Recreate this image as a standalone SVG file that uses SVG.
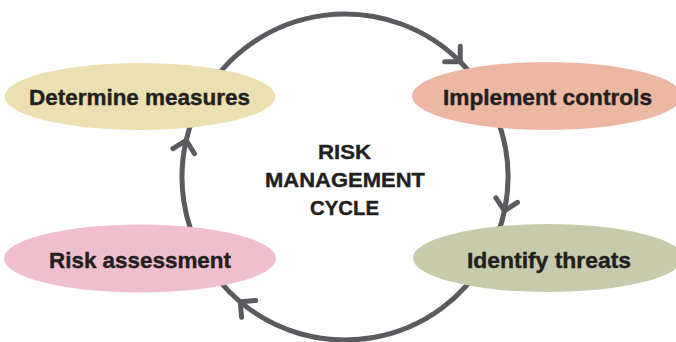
<svg xmlns="http://www.w3.org/2000/svg" width="676" height="342" viewBox="0 0 676 342">
<defs>
<style>
.conn{fill:none;stroke:#5b5a5f;stroke-width:5;marker-mid:url(#chev)}
.lbl{font-family:"Liberation Sans",Arial,sans-serif;font-weight:bold;font-size:22px;fill:#231f20;text-anchor:middle;stroke:#231f20;stroke-width:0.4}
.title{font-family:"Liberation Sans",Arial,sans-serif;font-weight:bold;font-size:20.5px;fill:#231f20;text-anchor:middle;stroke:#231f20;stroke-width:0.4}
</style>
<marker id="chev" markerUnits="userSpaceOnUse" orient="auto" refX="0" refY="0" markerWidth="30" markerHeight="30" viewBox="-15 -15 30 30" overflow="visible">
<path d="M-11 -11 L0 0 L-11 11" fill="none" stroke="#5b5a5f" stroke-width="5" stroke-linecap="round" stroke-linejoin="round"/>
</marker>
</defs>
<rect width="676" height="342" fill="#ffffff"/>
<g id="connectors">
<path class="conn" d="M203.84 95.5 A163 163 0 0 1 460.26 61.74 A163 163 0 0 1 498.17 121.25"/>
<path class="conn" d="M498.17 121.25 A163 163 0 0 1 504.44 210.89 A163 163 0 0 1 486.16 258.5"/>
<path class="conn" d="M486.16 258.5 A163 163 0 0 1 240.23 301.86 A163 163 0 0 1 203.84 258.5"/>
<path class="conn" d="M203.84 258.5 A163 163 0 0 1 186.18 140.33 A163 163 0 0 1 203.84 95.5"/>
</g>
<g id="node-determine">
<ellipse cx="140" cy="96.5" rx="135.5" ry="33.5" fill="#ecdfb2"/>
<text class="lbl" x="139.5" y="105" textLength="221" lengthAdjust="spacingAndGlyphs">Determine measures</text>
</g>
<g id="node-implement">
<ellipse cx="547" cy="96" rx="135" ry="34" fill="#edb8a3"/>
<text class="lbl" x="547.5" y="105" textLength="209" lengthAdjust="spacingAndGlyphs">Implement controls</text>
</g>
<g id="node-identify">
<ellipse cx="548" cy="258" rx="135" ry="34" fill="#c8cbab"/>
<text class="lbl" x="549" y="268" textLength="164" lengthAdjust="spacingAndGlyphs">Identify threats</text>
</g>
<g id="node-risk">
<ellipse cx="140" cy="258.5" rx="136" ry="34" fill="#f0bfce"/>
<text class="lbl" x="140" y="268" textLength="182" lengthAdjust="spacingAndGlyphs">Risk assessment</text>
</g>
<g id="title">
<text class="title" x="344.5" y="159" textLength="53" lengthAdjust="spacingAndGlyphs">RISK</text>
<text class="title" x="345" y="187" textLength="160" lengthAdjust="spacingAndGlyphs">MANAGEMENT</text>
<text class="title" x="344.5" y="215" textLength="69" lengthAdjust="spacingAndGlyphs">CYCLE</text>
</g>
</svg>
